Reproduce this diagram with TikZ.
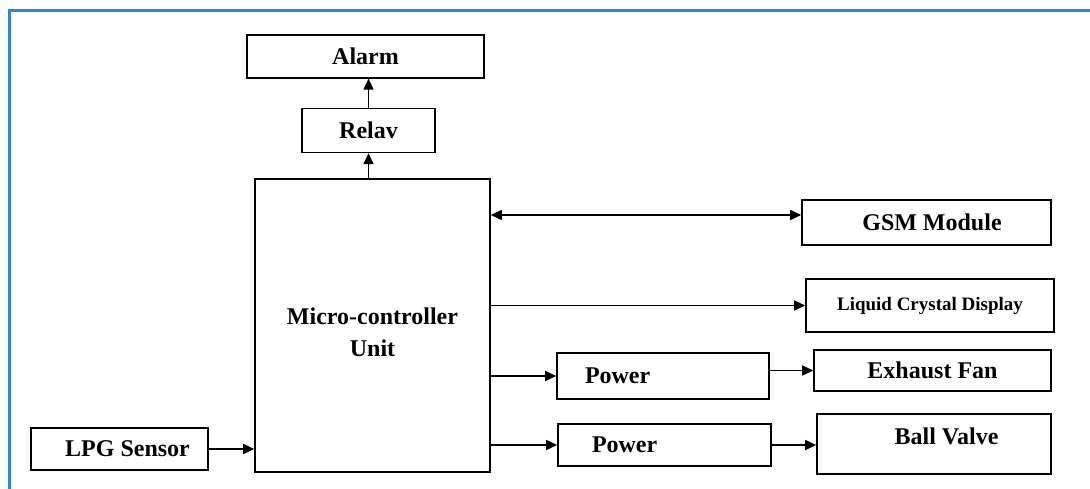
\documentclass[tikz,border=0pt]{standalone}
\usepackage{fontspec}
\setmainfont{Liberation Serif}
\usetikzlibrary{positioning,arrows.meta}
\definecolor{framecol}{RGB}{52,132,212}

\begin{document}
\begin{tikzpicture}[x=1pt, y=-1pt, >={Triangle[length=11pt,width=10pt]}, every node/.style={font=\bfseries\fontsize{24}{32}\selectfont}]
\tikzstyle{block}=[rectangle, draw, line width=1.6pt, align=center, inner sep=0pt]
\tikzstyle{link}=[line width=1.6pt]
\useasboundingbox (0,0) rectangle (1090,489);
\draw[framecol, line width=2.5pt] (9.5,489) -- (9.5,10.5) -- (1090,10.5);
\node[block, minimum width=235pt, minimum height=293pt] (mcu) at (372.5,325.5) {\rule{0pt}{30pt}Micro-controller\\Unit};
\node[block, minimum width=133pt, minimum height=44pt, above=25pt of mcu, xshift=-4pt] (relay) {Relav};
\node[block, minimum width=237pt, minimum height=43pt, above=29pt of relay, xshift=-3pt] (alarm) {Alarm};
\node[block, minimum width=177pt, minimum height=42pt] (lpg) at (119.5,449) {\hspace*{16pt}LPG Sensor};
\node[block, minimum width=249pt, minimum height=45pt] (gsm) at (926.5,222.5) {\hspace*{11pt}GSM Module};
\node[block, minimum width=248pt, minimum height=53pt, font=\bfseries\fontsize{19}{22}\selectfont] (lcd) at (930,305.5) {Liquid Crystal Display};
\node[block, minimum height=46pt, inner xsep=28pt, text width=156pt, align=left] (pow1) at (663,376) {Power};
\node[block, minimum width=237pt, minimum height=41pt] (fan) at (932.5,370.5) {Exhaust Fan};
\node[block, minimum height=42pt, inner xsep=34pt, text width=145pt, align=left] (pow2) at (664.5,445) {Power};
\node[block, minimum width=234pt, minimum height=60pt, text height=16pt, text depth=16pt] (valve) at (934,444) {\hspace*{25pt}Ball Valve};
\draw[link, ->] (lpg.east) -- (lpg.east -| mcu.west);
\draw[link, ->] (relay.south |- mcu.north) -- (relay.south);
\draw[link, ->] (relay.north) -- (relay.north |- alarm.south);
\draw[link, <->] ([yshift=7.5pt]gsm.west -| mcu.east) -- ([yshift=7.5pt]gsm.west);
\draw[link, ->] (lcd.west -| mcu.east) -- (lcd.west);
\draw[link, ->] (pow1.west -| mcu.east) -- (pow1.west);
\draw[link, ->] (pow1.east |- fan.west) -- (fan.west);
\draw[link, ->] (pow2.west -| mcu.east) -- (pow2.west);
\draw[link, ->] (pow2.east) -- (pow2.east -| valve.west);
\end{tikzpicture}
\end{document}
